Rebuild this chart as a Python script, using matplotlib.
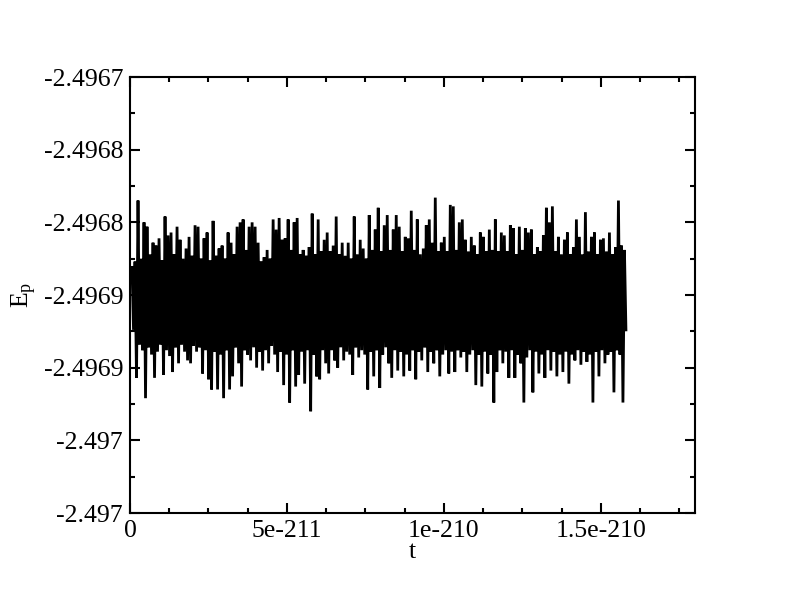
import numpy as np
import matplotlib
matplotlib.use("Agg")
import matplotlib.pyplot as plt
from matplotlib.ticker import FixedLocator, FixedFormatter, MultipleLocator

# sampling window of the trace (first and last time stamp)
t_first = 6.4e-213
t_last = 1.58e-210

# E_p, alternating crest / trough samples
ep = [
    -2.496831, -2.496874, -2.496827, -2.496907, -2.496785, -2.496884, -2.496825, -2.496888,
    -2.496800, -2.496921, -2.496803, -2.496886, -2.496822, -2.496891, -2.496814, -2.496907,
    -2.496816, -2.496889, -2.496811, -2.496884, -2.496826, -2.496905, -2.496796, -2.496888,
    -2.496809, -2.496892, -2.496807, -2.496903, -2.496822, -2.496886, -2.496803, -2.496897,
    -2.496812, -2.496884, -2.496825, -2.496889, -2.496818, -2.496895, -2.496810, -2.496897,
    -2.496823, -2.496885, -2.496802, -2.496889, -2.496803, -2.496886, -2.496825, -2.496904,
    -2.496811, -2.496888, -2.496807, -2.496908, -2.496826, -2.496915, -2.496799, -2.496889,
    -2.496823, -2.496915, -2.496818, -2.496891, -2.496816, -2.496921, -2.496825, -2.496888,
    -2.496807, -2.496915, -2.496814, -2.496906, -2.496822, -2.496886, -2.496803, -2.496897,
    -2.496800, -2.496913, -2.496798, -2.496888, -2.496819, -2.496891, -2.496803, -2.496895,
    -2.496800, -2.496886, -2.496803, -2.496900, -2.496814, -2.496889, -2.496827, -2.496902,
    -2.496824, -2.496888, -2.496819, -2.496897, -2.496825, -2.496885, -2.496798, -2.496891,
    -2.496805, -2.496903, -2.496797, -2.496889, -2.496812, -2.496912, -2.496811, -2.496891,
    -2.496798, -2.496924, -2.496819, -2.496888, -2.496800, -2.496913, -2.496797, -2.496905,
    -2.496822, -2.496889, -2.496819, -2.496911, -2.496823, -2.496888, -2.496817, -2.496930,
    -2.496794, -2.496891, -2.496822, -2.496906, -2.496798, -2.496908, -2.496820, -2.496888,
    -2.496812, -2.496897, -2.496807, -2.496904, -2.496820, -2.496888, -2.496816, -2.496895,
    -2.496796, -2.496900, -2.496822, -2.496886, -2.496814, -2.496895, -2.496823, -2.496889,
    -2.496814, -2.496891, -2.496825, -2.496905, -2.496796, -2.496886, -2.496822, -2.496893,
    -2.496812, -2.496888, -2.496818, -2.496891, -2.496825, -2.496915, -2.496795, -2.496889,
    -2.496819, -2.496906, -2.496805, -2.496888, -2.496790, -2.496914, -2.496820, -2.496891,
    -2.496802, -2.496886, -2.496795, -2.496897, -2.496819, -2.496907, -2.496805, -2.496888,
    -2.496795, -2.496902, -2.496803, -2.496889, -2.496820, -2.496906, -2.496810, -2.496891,
    -2.496811, -2.496902, -2.496792, -2.496888, -2.496819, -2.496908, -2.496798, -2.496889,
    -2.496822, -2.496895, -2.496818, -2.496886, -2.496802, -2.496903, -2.496798, -2.496889,
    -2.496814, -2.496897, -2.496783, -2.496888, -2.496820, -2.496906, -2.496814, -2.496891,
    -2.496810, -2.496888, -2.496820, -2.496904, -2.496788, -2.496889, -2.496789, -2.496903,
    -2.496819, -2.496888, -2.496800, -2.496893, -2.496798, -2.496889, -2.496812, -2.496903,
    -2.496820, -2.496891, -2.496810, -2.496888, -2.496816, -2.496912, -2.496822, -2.496891,
    -2.496807, -2.496913, -2.496810, -2.496889, -2.496820, -2.496904, -2.496805, -2.496891,
    -2.496819, -2.496924, -2.496798, -2.496903, -2.496820, -2.496888, -2.496807, -2.496897,
    -2.496809, -2.496889, -2.496820, -2.496907, -2.496802, -2.496888, -2.496804, -2.496907,
    -2.496822, -2.496891, -2.496803, -2.496897, -2.496819, -2.496924, -2.496804, -2.496893,
    -2.496807, -2.496888, -2.496805, -2.496917, -2.496822, -2.496889, -2.496817, -2.496904,
    -2.496820, -2.496891, -2.496809, -2.496907, -2.496790, -2.496888, -2.496800, -2.496902,
    -2.496789, -2.496889, -2.496820, -2.496906, -2.496810, -2.496891, -2.496822, -2.496903,
    -2.496812, -2.496889, -2.496807, -2.496911, -2.496822, -2.496891, -2.496817, -2.496895,
    -2.496798, -2.496888, -2.496810, -2.496898, -2.496822, -2.496889, -2.496793, -2.496896,
    -2.496820, -2.496891, -2.496810, -2.496924, -2.496807, -2.496889, -2.496822, -2.496906,
    -2.496812, -2.496888, -2.496811, -2.496897, -2.496820, -2.496891, -2.496807, -2.496889,
    -2.496822, -2.496917, -2.496817, -2.496888, -2.496785, -2.496891, -2.496816, -2.496924,
    -2.496819, -2.496874,
]

x_ticks = [0.0, 5e-211, 1e-210, 1.5e-210]
x_tick_labels = ["0", "5e-211", "1e-210", "1.5e-210"]
y_ticks = [-2.4970, -2.49695, -2.4969, -2.49685, -2.4968, -2.49675, -2.4967]
y_tick_labels = ["-2.497", "-2.497", "-2.4969", "-2.4969", "-2.4968", "-2.4968", "-2.4967"]

plt.rcParams.update(
    {
        "font.family": ["Liberation Serif", "DejaVu Serif"],
        "mathtext.fontset": "custom",
        "mathtext.rm": "Liberation Serif",
        "mathtext.it": "Liberation Serif:italic",
        "font.size": 18.5,
        "path.simplify": False,
    }
)

t = np.linspace(t_first, t_last, len(ep))

fig = plt.figure(figsize=(7.92, 6.05), dpi=100)
ax = fig.add_axes([130 / 792, 1 - 513 / 605, 565 / 792, 436 / 605])
ax.plot(t, ep, color="black", linewidth=2.0, solid_joinstyle="miter")

ax.set_xlim(0, 1.8e-210)
ax.set_ylim(-2.4970, -2.4967)
ax.xaxis.set_major_locator(FixedLocator(x_ticks))
ax.xaxis.set_major_formatter(FixedFormatter(x_tick_labels))
ax.xaxis.set_minor_locator(MultipleLocator(1.25e-211))
ax.yaxis.set_major_locator(FixedLocator(y_ticks))
ax.yaxis.set_major_formatter(FixedFormatter(y_tick_labels))
ax.yaxis.set_minor_locator(MultipleLocator(2.5e-5))

ax.tick_params(which="both", direction="in", top=True, right=True, width=1.5)
ax.tick_params(which="major", length=7.5, pad=5)
ax.tick_params(which="minor", length=3.8)
for spine in ax.spines.values():
    spine.set_linewidth(1.5)

ax.set_xlabel("t", labelpad=-1)
ax.set_ylabel(r"E$_\mathrm{p}$", labelpad=3)

fig.savefig("out.png", dpi=100)
